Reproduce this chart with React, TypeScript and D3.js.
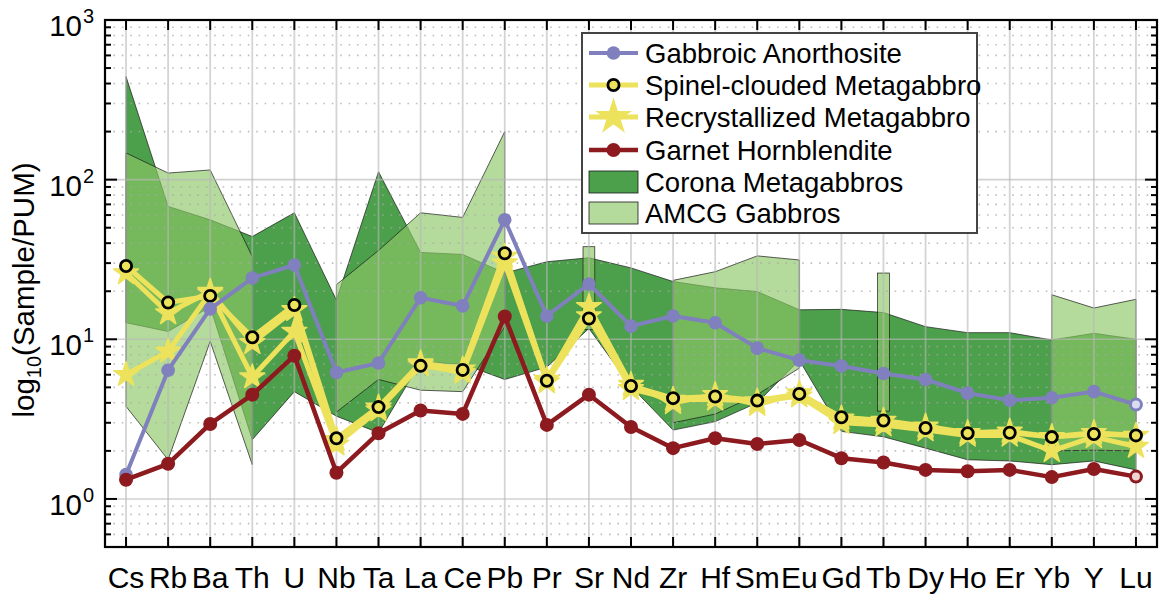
import React from "react";
import * as d3 from "d3";

const elements = ["Cs","Rb","Ba","Th","U","Nb","Ta","La","Ce","Pb","Pr","Sr","Nd","Zr","Hf","Sm","Eu","Gd","Tb","Dy","Ho","Er","Yb","Y","Lu"];

const gabbroicAnorthosite = [1.42, 6.4, 15.5, 24.2, 29.2, 6.2, 7.1, 18.2, 16.2, 56, 14.0, 22.2, 12.1, 14.0, 12.7, 8.8, 7.4, 6.8, 6.1, 5.6, 4.6, 4.15, 4.3, 4.7, 3.9];
const garnetHornblendite = [1.32, 1.66, 2.95, 4.5, 7.9, 1.46, 2.58, 3.58, 3.41, 13.9, 2.91, 4.5, 2.82, 2.08, 2.4, 2.21, 2.34, 1.8, 1.69, 1.52, 1.49, 1.52, 1.37, 1.54, 1.38];
const spinelClouded = [28.8, 17.0, 18.7, 10.3, 16.4, 2.4, 3.76, 6.82, 6.43, 34.6, 5.5, 13.5, 5.1, 4.28, 4.38, 4.13, 4.55, 3.25, 3.1, 2.78, 2.58, 2.6, 2.44, 2.55, 2.5];
const recrystallizedA = [26, 14.6, 19.9, 9.5, 15.3, 2.35, 3.75, 7.1, 6.5, 33, 5.6, 16, 5.2, 4.0, 4.5, 3.9, 4.6, 3.2, 3.1, 2.85, 2.6, 2.65, 2.45, 2.6, 2.5];
const recrystallizedB = [6.0, 8.4, 19.5, 5.8, 11.2, 2.2, 3.6, 6.9, 6.2, 30, 5.4, 14, 4.9, 4.2, 4.2, 4.1, 4.4, 3.0, 2.9, 2.7, 2.5, 2.5, 2.0, 2.45, 2.13];

const coronaUpper = [442, 68, 56, 44, 62, 17.6, 112, 35, 34, 26, 30.6, 32.4, 28, 23, 21, 19.9, 15.3, 15.4, 14.7, 12.0, 11.0, 11.0, 9.9, 10.9, 10.0];
const coronaLower = [12.7, 11.2, 16, 2.35, 4.7, 3.3, 2.6, 7.2, 7.0, 5.6, 6.7, 11.7, 5.06, 2.7, 3.05, 4.0, 7.4, 2.65, 2.45, 2.08, 1.76, 1.73, 1.64, 1.73, 1.52];

const amcgUpper: (number | null)[] = [147, 110, 115, 33, null, 22, 36, 62, 58, 200, null, 38, null, 23.4, 26.5, 33.3, 31.4, null, 26, null, null, null, 19, 15.7, 17.8];
const amcgLower: (number | null)[] = [3.8, 1.76, 9.7, 1.64, null, 3.5, 5.6, 4.8, 4.7, 12, null, 11.5, null, 3.0, 3.4, 4.5, 6.6, null, 3.55, null, null, null, 2.0, 2.02, 2.0];

const majorTicks = [1, 10, 100, 1000];
const majorExp = ["0", "1", "2", "3"];

const legendLabels = ["Gabbroic Anorthosite", "Spinel-clouded Metagabbro", "Recrystallized Metagabbro", "Garnet Hornblendite", "Corona Metagabbros", "AMCG Gabbros"];

const FONT = "'Liberation Sans', Arial, Helvetica, sans-serif";
const PURPLE = "#7f80bd";
const RED = "#8c1a1f";
const YELLOW = "#ece25c";
const DARK = "#4c9f4b";
const AMCG = "#8cc866";

const W = 1160, H = 596;
const L = 105, R = 1157, T = 20, B = 547;

function runs(up: (number | null)[], lo: (number | null)[]) {
  const out: number[][] = [];
  let cur: number[] = [];
  up.forEach((v, i) => {
    if (v != null && lo[i] != null) cur.push(i);
    else { if (cur.length) out.push(cur); cur = []; }
  });
  if (cur.length) out.push(cur);
  return out;
}

export default function App() {
  const x = d3.scaleLinear().domain([-0.5, elements.length - 0.5]).range([L, R]);
  const y = d3.scaleLog().domain([0.5, 1000]).range([B, T]);
  const step = x(1) - x(0);

  const minor: number[] = [];
  [0.1, 1, 10, 100].forEach(d => { for (let k = 2; k <= 9; k++) { const v = k * d; if (v > 0.5 && v < 1000) minor.push(v); } });

  const areaGen = (up: (number | null)[], lo: (number | null)[]) =>
    d3.area<number>().x(i => x(i)).y0(i => y(lo[i] as number)).y1(i => y(up[i] as number));

  const line = (vals: number[]) => d3.line<number>().x((_, i) => x(i)).y(v => y(v))(vals) || "";
  const star = (r: number) => d3.symbol().type(d3.symbolStar).size((r * r) / 0.8908130915292852)() || "";

  const coronaRuns = runs(coronaUpper, coronaLower);
  const amcgRuns = runs(amcgUpper, amcgLower);

  const legendRowsY = [53, 85, 117, 150, 182, 213];

  return (
    <svg width={W} height={H} style={{ display: "block", position: "absolute", left: 0, top: 0 }} fontFamily={FONT}>
      <rect x={0} y={0} width={W} height={H} fill="white" />
      {/* areas */}
      {coronaRuns.map((r, k) => (
        <path key={"c" + k} d={areaGen(coronaUpper, coronaLower)(r) || ""} fill={DARK} stroke="#1a1a1a" strokeWidth={0.7} />
      ))}
      {amcgRuns.map((r, k) =>
        r.length > 1 ? (
          <path key={"a" + k} d={areaGen(amcgUpper, amcgLower)(r) || ""} fill={AMCG} fillOpacity={0.65} stroke="#1a1a1a" strokeWidth={0.7} />
        ) : (
          <rect key={"a" + k} x={x(r[0]) - step * 0.14} width={step * 0.28} y={y(amcgUpper[r[0]] as number)}
            height={y(amcgLower[r[0]] as number) - y(amcgUpper[r[0]] as number)} fill={AMCG} fillOpacity={0.65} stroke="#1a1a1a" strokeWidth={0.7} />
        )
      )}
      {/* grid */}
      <g>
        {minor.map(v => (
          <line key={"mg" + v} x1={L} x2={R} y1={y(v)} y2={y(v)} stroke="#a8a8a8" strokeOpacity={0.75} strokeWidth={1.6} strokeDasharray="1.6,6.8" />
        ))}
        {majorTicks.slice(0, 3).map(v => (
          <line key={"Mg" + v} x1={L} x2={R} y1={y(v)} y2={y(v)} stroke="#b8b8b8" strokeOpacity={0.65} strokeWidth={1.6} />
        ))}
        {elements.map((e, i) => (
          <line key={"vg" + e} x1={x(i)} x2={x(i)} y1={T} y2={B} stroke="#b8b8b8" strokeOpacity={0.6} strokeWidth={1.8} />
        ))}
      </g>
      {/* recrystallized */}
      {[recrystallizedA, recrystallizedB].map((s, k) => (
        <g key={"rc" + k}>
          <path d={line(s)} fill="none" stroke={YELLOW} strokeWidth={5} strokeLinejoin="round" />
          {s.map((v, i) => (
            <path key={i} d={star(13)} transform={`translate(${x(i)},${y(v)})`} fill={YELLOW} stroke={YELLOW} strokeWidth={1.5} strokeLinejoin="round" />
          ))}
        </g>
      ))}
      {/* spinel */}
      <path d={line(spinelClouded)} fill="none" stroke={YELLOW} strokeWidth={5} strokeLinejoin="round" />
      {spinelClouded.map((v, i) => (
        <circle key={"sp" + i} cx={x(i)} cy={y(v)} r={5.6} fill={YELLOW} stroke="#000" strokeWidth={2.8} />
      ))}
      {/* gabbroic anorthosite */}
      <path d={line(gabbroicAnorthosite)} fill="none" stroke={PURPLE} strokeWidth={4} strokeLinejoin="round" />
      {gabbroicAnorthosite.map((v, i) => (
        <circle key={"ga" + i} cx={x(i)} cy={y(v)} r={i === elements.length - 1 ? 5.5 : 6.8}
          fill={i === elements.length - 1 ? "#dcdcf0" : PURPLE} stroke={PURPLE} strokeWidth={i === elements.length - 1 ? 3 : 0} />
      ))}
      {/* garnet hornblendite */}
      <path d={line(garnetHornblendite)} fill="none" stroke={RED} strokeWidth={4.5} strokeLinejoin="round" />
      {garnetHornblendite.map((v, i) => (
        <circle key={"gh" + i} cx={x(i)} cy={y(v)} r={i === elements.length - 1 ? 5.5 : 7}
          fill={i === elements.length - 1 ? "#f0d4d4" : RED} stroke={RED} strokeWidth={i === elements.length - 1 ? 3 : 0} />
      ))}
      {/* frame & ticks */}
      <rect x={L} y={T} width={R - L} height={B - T} fill="none" stroke="#000" strokeWidth={2.2} />
      {elements.map((e, i) => (
        <g key={"t" + e}>
          <line x1={x(i)} x2={x(i)} y1={B} y2={B - 10} stroke="#000" strokeWidth={2} />
          <line x1={x(i)} x2={x(i)} y1={T} y2={T + 10} stroke="#000" strokeWidth={2} />
          <text x={x(i)} y={588} textAnchor="middle" fontSize={30} fill="#000">{e}</text>
        </g>
      ))}
      {majorTicks.map((v, k) => (
        <g key={"yt" + v}>
          <line x1={L} x2={L + 12} y1={y(v)} y2={y(v)} stroke="#000" strokeWidth={2} />
          <line x1={R} x2={R - 12} y1={y(v)} y2={y(v)} stroke="#000" strokeWidth={2} />
          <text x={82} y={y(v) + 16} textAnchor="end" fontSize={29.5} fill="#000">10</text>
          <text x={83} y={y(v) + 3} textAnchor="start" fontSize={20} fill="#000">{majorExp[k]}</text>
        </g>
      ))}
      {minor.map(v => (
        <g key={"ym" + v}>
          <line x1={L} x2={L + 6} y1={y(v)} y2={y(v)} stroke="#000" strokeWidth={2} />
          <line x1={R} x2={R - 6} y1={y(v)} y2={y(v)} stroke="#000" strokeWidth={2} />
        </g>
      ))}
      <text transform="translate(34,290) rotate(-90)" textAnchor="middle" fontSize={29.5} fill="#000">
        log<tspan fontSize={20} dy={7}>10</tspan><tspan dy={-7}>(Sample/PUM)</tspan>
      </text>
      {/* legend */}
      <g>
        <rect x={582} y={33} width={395} height={200} fill="white" stroke="#444" strokeWidth={2} />
        <line x1={589} x2={638} y1={legendRowsY[0]} y2={legendRowsY[0]} stroke={PURPLE} strokeWidth={4} />
        <circle cx={613.5} cy={legendRowsY[0]} r={6.8} fill={PURPLE} />
        <line x1={589} x2={638} y1={legendRowsY[1]} y2={legendRowsY[1]} stroke={YELLOW} strokeWidth={5} />
        <circle cx={613.5} cy={legendRowsY[1]} r={5.6} fill={YELLOW} stroke="#000" strokeWidth={2.8} />
        <line x1={589} x2={638} y1={legendRowsY[2]} y2={legendRowsY[2]} stroke={YELLOW} strokeWidth={5} />
        <path d={star(17)} transform={`translate(613.5,${legendRowsY[2]})`} fill={YELLOW} stroke={YELLOW} strokeWidth={1.5} />
        <line x1={589} x2={638} y1={legendRowsY[3]} y2={legendRowsY[3]} stroke={RED} strokeWidth={4.5} />
        <circle cx={613.5} cy={legendRowsY[3]} r={7} fill={RED} />
        <rect x={589} y={legendRowsY[4] - 11} width={49} height={22} fill={DARK} stroke="#1a1a1a" strokeWidth={0.8} />
        <rect x={589} y={legendRowsY[5] - 11} width={49} height={22} fill={AMCG} fillOpacity={0.65} stroke="#1a1a1a" strokeWidth={0.8} />
        {legendLabels.map((t, k) => (
          <text key={t} x={645} y={legendRowsY[k] + 10} fontSize={27.5} fill="#000">{t}</text>
        ))}
      </g>
    </svg>
  );
}
